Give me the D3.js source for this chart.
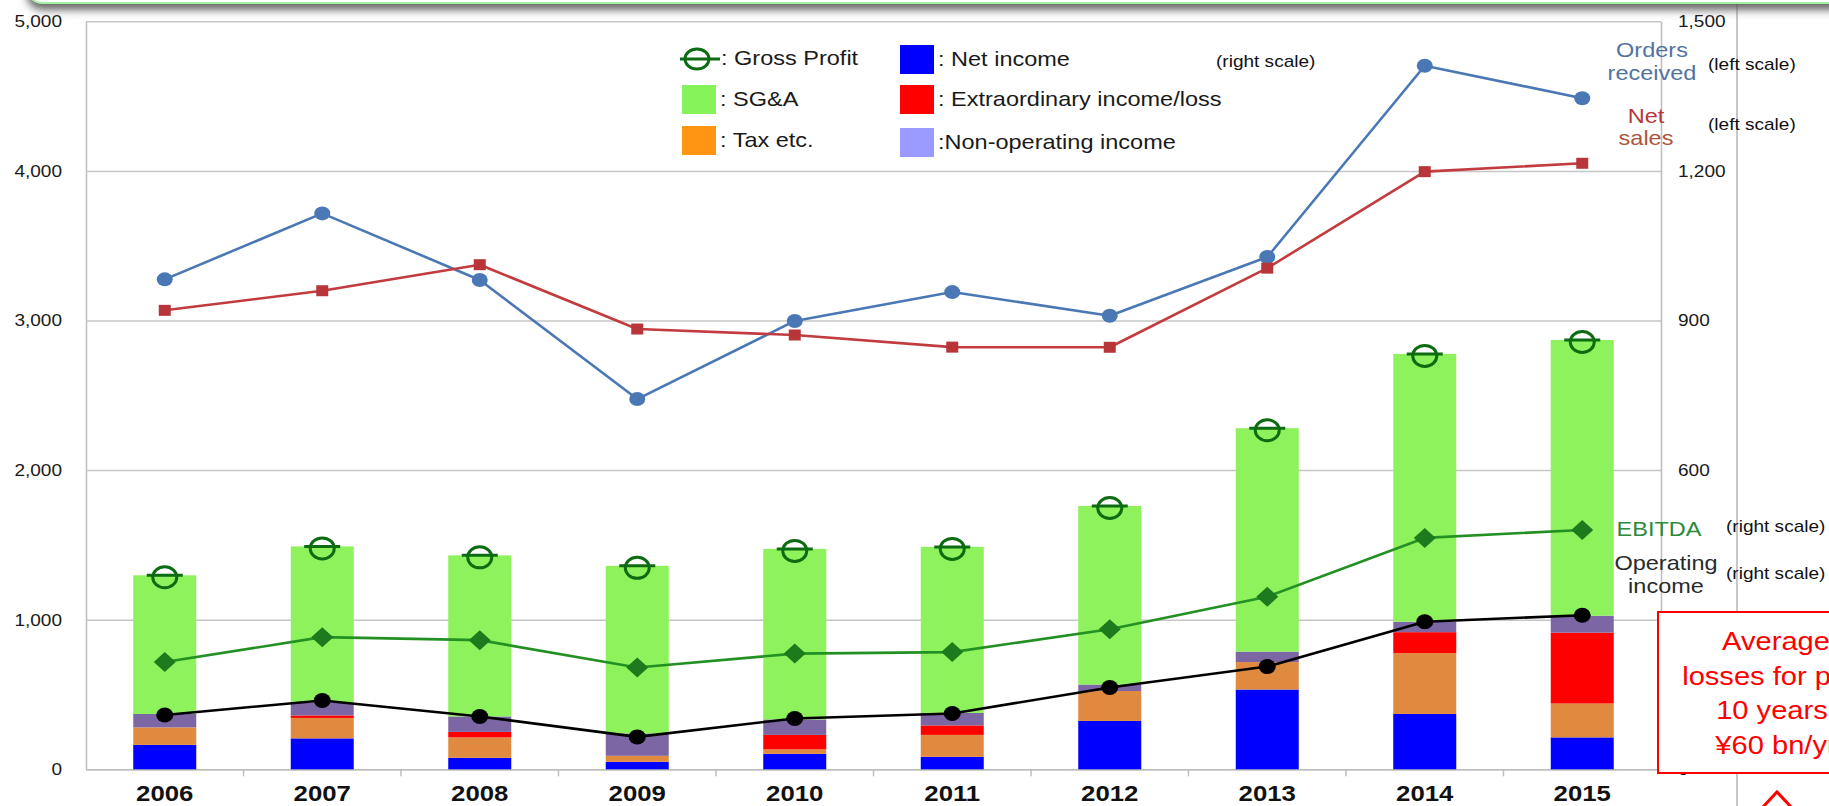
<!DOCTYPE html>
<html>
<head>
<meta charset="utf-8">
<title>Orders, sales and profit 2006-2015</title>
<script src="https://cdn.jsdelivr.net/npm/d3@7"></script>
<style>
  html, body { margin: 0; padding: 0; background: #fff; overflow: hidden; }
  svg { display: block; font-family: "Liberation Sans", Arial, sans-serif; }
</style>
</head>
<body>
<svg id="chart"></svg>
<script>
// Fiscal years
var years = ['2006', '2007', '2008', '2009', '2010', '2011', '2012', '2013', '2014', '2015'];

// Left scale (lines)
var ordersReceived = [3275, 3716, 3271, 2475, 2997, 3190, 3032, 3424, 4703, 4486];
var netSales = [3068, 3199, 3373, 2943, 2903, 2822, 2821, 3350, 3995, 4051];

// Right scale, stacked bars from the bottom up
var netIncome = [49, 62, 23, 15, 31, 25, 97, 160, 111, 64];
var taxEtc = [35, 41, 41, 12, 9, 44, 60, 55, 122, 68];
var extraordinary = [0, 5, 11, 0, 29, 19, 0, 0, 42, 142];
var nonOperating = [27, 26, 31, 45, 31, 25, 13, 21, 21, 34];
var sga = [278, 313, 323, 336, 342, 333, 358, 448, 537, 553];

// Right scale, lines and markers
var grossProfit = [389, 447, 429, 408, 442, 446, 528, 684, 833, 861];
var ebitda = [215, 265, 259, 204, 232, 235, 281, 346, 464, 480];
var operatingIncome = [109, 138, 106, 65, 102, 112, 164, 206, 296, 309];

var leftTicks = [0, 1000, 2000, 3000, 4000, 5000];
var rightTicks = [0, 300, 600, 900, 1200, 1500];

var W = 1829, H = 806;
var SX = 1.12; // the original slide is a little stretched sideways

var svg = d3.select('#chart').attr('width', W).attr('height', H);

var plot = {left: 86, right: 1661, top: 21.3, bottom: 769.3};

var x = d3.scaleBand().domain(years).range([plot.left, plot.right]);
var yL = d3.scaleLinear().domain([0, 5000]).range([plot.bottom, plot.top]);
var yR = d3.scaleLinear().domain([0, 1500]).range([plot.bottom, plot.top]);
var cx = function (d, i) { return x(years[i]) + x.bandwidth() / 2; };

// text helper: stretched text at a point
function label(g, px, py, str, size, color, anchor, weight) {
  return g.append('text')
      .attr('transform', 'translate(' + px + ',' + py + ') scale(' + SX + ',1)')
      .attr('text-anchor', anchor || 'start')
      .style('font-size', size + 'px')
      .style('font-weight', weight || 'normal')
      .style('fill', color)
      .text(str);
}

// turn axis text x/y into a stretched transform
function stretch(sel) {
  sel.each(function () {
    var t = d3.select(this);
    var tx = +t.attr('x') || 0, ty = +t.attr('y') || 0;
    t.attr('x', null).attr('y', null)
        .attr('transform', 'translate(' + tx + ',' + ty + ') scale(' + SX + ',1)');
  });
}

var defs = svg.append('defs');
var sh = defs.append('filter').attr('id', 'shadow').attr('filterUnits', 'userSpaceOnUse')
    .attr('x', 0).attr('y', -60).attr('width', 3000).attr('height', 100);
sh.append('feDropShadow').attr('dx', 0).attr('dy', 6).attr('stdDeviation', 4)
    .attr('flood-color', '#555').attr('flood-opacity', 0.9);

// slide frame line on the right
svg.append('line')
    .attr('x1', 1737).attr('x2', 1737).attr('y1', 0).attr('y2', H)
    .attr('stroke', '#b4b4b4').attr('stroke-width', 1.5);

// Left axis + gridlines
var gLeft = svg.append('g').attr('transform', 'translate(' + plot.left + ',0)')
    .call(d3.axisLeft(yL).tickValues(leftTicks).tickFormat(d3.format(','))
        .tickSize(-(plot.right - plot.left)).tickSizeOuter(0).tickPadding(24));
gLeft.select('.domain').attr('stroke', '#bdbdbd').attr('stroke-width', 1.5);
gLeft.selectAll('.tick line').attr('stroke', '#c6c6c6').attr('stroke-width', 1.5);
gLeft.selectAll('.tick text').style('font-size', '17px').style('fill', '#1a1a1a')
    .style('font-family', '"Liberation Sans", Arial, sans-serif').call(stretch);

// Right axis
var gRight = svg.append('g').attr('transform', 'translate(' + plot.right + ',0)')
    .call(d3.axisRight(yR).tickValues(rightTicks).tickFormat(d3.format(','))
        .tickSize(0).tickPadding(17));
gRight.select('.domain').attr('stroke', '#bdbdbd').attr('stroke-width', 1.5);
gRight.selectAll('.tick text').style('font-size', '17px').style('fill', '#1a1a1a')
    .style('font-family', '"Liberation Sans", Arial, sans-serif').call(stretch);

// Bottom axis: tick marks sit between the years
var gBottom = svg.append('g').attr('transform', 'translate(0,' + plot.bottom + ')')
    .call(d3.axisBottom(x).tickSize(0).tickPadding(15.4));
gBottom.select('.domain').attr('stroke', '#bdbdbd').attr('stroke-width', 1.5);
gBottom.selectAll('.tick text').style('font-size', '23px').style('font-weight', 'bold')
    .style('fill', '#111').style('font-family', '"Liberation Sans", Arial, sans-serif')
    .call(stretch);
gBottom.selectAll('.edge').data(years.slice(1).map(function (d) { return x(d); }))
  .enter().append('line')
    .attr('x1', function (d) { return d; }).attr('x2', function (d) { return d; })
    .attr('y1', 0).attr('y2', 7).attr('stroke', '#bdbdbd').attr('stroke-width', 1.5);

// Stacked bars
var rows = years.map(function (y, i) {
  return {year: y, net: netIncome[i], tax: taxEtc[i], extra: extraordinary[i],
          nonop: nonOperating[i], sga: sga[i]};
});
var keys = ['net', 'tax', 'extra', 'nonop', 'sga'];
var barColor = {net: '#0000ff', tax: '#e08a40', extra: '#ff0000', nonop: '#7d66a4', sga: '#8ef25c'};
var stack = d3.stack().keys(keys)(rows);
var bw = x.bandwidth() * 0.4;

svg.append('g').selectAll('g').data(stack).enter().append('g')
    .attr('fill', function (s) { return barColor[s.key]; })
  .selectAll('rect').data(function (s) { return s; }).enter().append('rect')
    .attr('x', function (d) { return x(d.data.year) + (x.bandwidth() - bw) / 2; })
    .attr('width', bw)
    .attr('y', function (d) { return yR(d[1]); })
    .attr('height', function (d) { return yR(d[0]) - yR(d[1]); });

// Lines
function drawLine(values, scale, color) {
  svg.append('path').datum(values)
      .attr('fill', 'none').attr('stroke', color).attr('stroke-width', 2.6)
      .attr('stroke-linejoin', 'round')
      .attr('d', d3.line().x(cx).y(function (d) { return scale(d); }));
}

drawLine(ordersReceived, yL, '#4a78b4');
svg.append('g').selectAll('ellipse').data(ordersReceived).enter().append('ellipse')
    .attr('cx', cx).attr('cy', function (d) { return yL(d); })
    .attr('rx', 8).attr('ry', 7).attr('fill', '#4a78b4');

drawLine(netSales, yL, '#c23b3f');
svg.append('g').selectAll('rect').data(netSales).enter().append('rect')
    .attr('x', function (d, i) { return cx(d, i) - 6; })
    .attr('y', function (d) { return yL(d) - 5.5; })
    .attr('width', 12).attr('height', 11).attr('fill', '#b8353a');

drawLine(ebitda, yR, '#229022');
svg.append('g').selectAll('path').data(ebitda).enter().append('path')
    .attr('d', function (d, i) {
      var px = cx(d, i), py = yR(d);
      return 'M' + (px - 11) + ',' + py + 'L' + px + ',' + (py - 10) +
             'L' + (px + 11) + ',' + py + 'L' + px + ',' + (py + 10) + 'Z';
    })
    .attr('fill', '#1d7a1d');

drawLine(operatingIncome, yR, '#000');
svg.append('g').selectAll('ellipse').data(operatingIncome).enter().append('ellipse')
    .attr('cx', cx).attr('cy', function (d) { return yR(d); })
    .attr('rx', 8.5).attr('ry', 7.5).attr('fill', '#000');

// Gross profit markers
var gp = svg.append('g').selectAll('g').data(grossProfit).enter().append('g')
    .attr('transform', function (d, i) { return 'translate(' + cx(d, i) + ',' + yR(d) + ')'; });
gp.append('ellipse').attr('cx', 0).attr('cy', 2).attr('rx', 12).attr('ry', 10.5)
    .attr('fill', 'none').attr('stroke', '#0d6b12').attr('stroke-width', 3);
gp.append('line').attr('x1', -18).attr('x2', 18).attr('y1', 0).attr('y2', 0)
    .attr('stroke', '#0d6b12').attr('stroke-width', 3);

// Legend
var lg = svg.append('g');
var lgSym = lg.append('g').attr('transform', 'translate(697,59)');
lgSym.append('ellipse').attr('rx', 12).attr('ry', 10).attr('fill', 'none')
    .attr('stroke', '#0d6b12').attr('stroke-width', 3);
lgSym.append('line').attr('x1', -17).attr('x2', 23).attr('stroke', '#0d6b12').attr('stroke-width', 3);
label(lg, 721, 65, ': Gross Profit', 21, '#1a1a1a');

var legendBoxes = [
  {x: 682, y: 85, c: '#86f35a', t: ': SG&A'},
  {x: 682, y: 126, c: '#ff9511', t: ': Tax etc.'},
  {x: 900, y: 45, c: '#0000ff', t: ': Net income'},
  {x: 900, y: 85, c: '#ff0000', t: ': Extraordinary income/loss'},
  {x: 900, y: 128, c: '#9b9bff', t: ':Non-operating income'}
];
legendBoxes.forEach(function (b) {
  lg.append('rect').attr('x', b.x).attr('y', b.y).attr('width', 34).attr('height', 29)
      .attr('fill', b.c);
  label(lg, b.x + 38, b.y + 21, b.t, 21, '#1a1a1a');
});
label(lg, 1216, 67, '(right scale)', 17, '#111');

// Series labels on the right
label(svg, 1652, 57, 'Orders', 21, '#5273a0', 'middle');
label(svg, 1652, 80, 'received', 21, '#5273a0', 'middle');
label(svg, 1708, 70, '(left scale)', 17, '#111');
label(svg, 1646, 123, 'Net', 21, '#b3373c', 'middle');
label(svg, 1646, 145, 'sales', 21, '#b0563c', 'middle');
label(svg, 1708, 130, '(left scale)', 17, '#111');
label(svg, 1659, 536, 'EBITDA', 21, '#2a8a3a', 'middle');
label(svg, 1726, 532, '(right scale)', 17, '#111');
label(svg, 1666, 570, 'Operating', 21, '#2a2a2a', 'middle');
label(svg, 1666, 593, 'income', 21, '#2a2a2a', 'middle');
label(svg, 1726, 579, '(right scale)', 17, '#111');

// Note box (runs off the right edge of the slide, as in the original)
svg.append('rect').attr('x', 1658).attr('y', 612).attr('width', 300).attr('height', 161)
    .attr('fill', '#fff').attr('stroke', '#ff0000').attr('stroke-width', 2);
var note = ['Average', 'losses for past', '10 years:', '\u00a560 bn/yr'];
note.forEach(function (t, i) {
  label(svg, 1776, 650 + i * 34.6, t, 26, '#ff0000', 'middle');
});
svg.append('path').attr('d', 'M1762,808L1777,792L1792,808')
    .attr('fill', 'none').attr('stroke', '#ff0000').attr('stroke-width', 3);

// Slide header edge with its shadow
svg.append('rect').attr('x', 28).attr('y', -40).attr('width', 2600).attr('height', 43)
    .attr('rx', 14).attr('fill', '#fff').attr('stroke', '#a6f0a6').attr('stroke-width', 2)
    .attr('filter', 'url(#shadow)');
</script>
</body>
</html>
